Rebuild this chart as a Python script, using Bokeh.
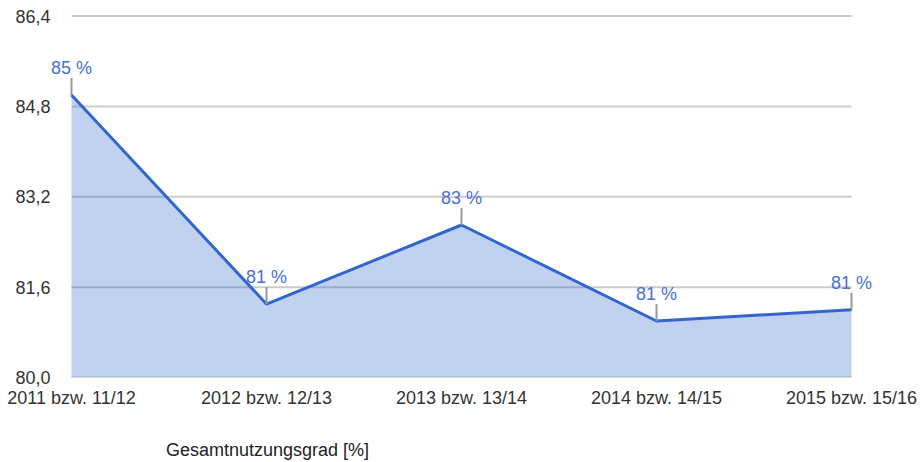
from bokeh.plotting import figure
from bokeh.models import Range1d, FixedTicker, Legend, LegendItem
from bokeh.layouts import column
from bokeh.core.properties import value
from bokeh.embed import file_html
from bokeh.resources import INLINE

categories = ["2011 bzw. 11/12", "2012 bzw. 12/13", "2013 bzw. 13/14", "2014 bzw. 14/15", "2015 bzw. 15/16"]
values = [85.0, 81.3, 82.7, 81.0, 81.2]
point_labels = ["85 %", "81 %", "83 %", "81 %", "81 %"]
y_ticks = [80.0, 81.6, 83.2, 84.8, 86.4]
y_tick_labels = ["80,0", "81,6", "83,2", "84,8", "86,4"]
series_name = "Gesamtnutzungsgrad [%]"

FONT = "Liberation Sans"
BLUE = "#3366cc"
Y_MIN, Y_MAX = 80.0, 86.4

# layout in pixels
WIDTH, MAIN_H, LEGEND_H = 918, 410, 52
FRAME_LEFT, FRAME_RIGHT = 48, 882          # frame edges
DATA_LEFT, DATA_RIGHT = 71, 851            # where first / last category sit
FRAME_TOP, DATA_TOP, DATA_BOTTOM = 10, 15.5, 377
px_per_x = (DATA_RIGHT - DATA_LEFT) / (len(categories) - 1)
px_per_y = (DATA_BOTTOM - DATA_TOP) / (Y_MAX - Y_MIN)
x_start = -(DATA_LEFT - FRAME_LEFT) / px_per_x
x_end = (len(categories) - 1) + (FRAME_RIGHT - DATA_RIGHT) / px_per_x
y_end = Y_MAX + (DATA_TOP - FRAME_TOP) / px_per_y

xs = list(range(len(categories)))

p = figure(width=WIDTH, height=MAIN_H,
           output_backend="svg", toolbar_location=None,
           x_range=Range1d(x_start, x_end), y_range=Range1d(Y_MIN, y_end),
           min_border_left=FRAME_LEFT, min_border_right=WIDTH - FRAME_RIGHT,
           min_border_top=FRAME_TOP, min_border_bottom=MAIN_H - DATA_BOTTOM)
p.outline_line_color = None
p.background_fill_color = "white"
p.border_fill_color = "white"
p.xgrid.visible = False
p.ygrid.visible = False

# gridlines restricted to the data span
p.segment(x0=[xs[0]] * len(y_ticks), x1=[xs[-1]] * len(y_ticks), y0=y_ticks, y1=y_ticks,
          line_color="#cccccc", line_width=2, level="underlay")

# axes
p.yaxis.ticker = FixedTicker(ticks=y_ticks)
p.yaxis.major_label_overrides = {t: l for t, l in zip(y_ticks, y_tick_labels)}
p.xaxis.ticker = FixedTicker(ticks=xs)
p.xaxis.major_label_overrides = {i: c for i, c in enumerate(categories)}
for ax in (p.xaxis, p.yaxis):
    ax.axis_line_color = None
    ax.major_tick_line_color = None
    ax.minor_tick_line_color = None
    ax.major_tick_out = 0
    ax.major_tick_in = 0
    ax.major_label_text_font = FONT
    ax.major_label_text_font_size = "18px"
    ax.major_label_text_color = "#333333"
p.yaxis.major_label_standoff = -2
p.xaxis.major_label_standoff = 10

# area + line
area = p.varea(x=xs, y1=[Y_MIN] * len(xs), y2=values, fill_color=BLUE, fill_alpha=0.3)
line = p.line(x=xs, y=values, line_color=BLUE, line_width=3)

# annotation stems and labels
stem_top = [v + 17 / px_per_y for v in values]
p.segment(x0=xs, y0=values, x1=xs, y1=stem_top, line_color="#999999", line_width=2)
p.text(x=xs, y=values, text=point_labels, text_align="center", text_baseline="middle",
       y_offset=-27, text_font=value(FONT), text_font_size="18px", text_color="#4a6fd6")

# legend strip: a small figure below holding only the legend
lg = figure(width=WIDTH, height=LEGEND_H, output_backend="svg", toolbar_location=None,
            min_border=0, x_axis_location=None, y_axis_location=None,
            x_range=Range1d(0, 1), y_range=Range1d(0, 1))
lg.outline_line_color = None
lg.grid.visible = False
lg.border_fill_color = "white"
lg_area = lg.varea(x=[], y1=[], y2=[], fill_color=BLUE, fill_alpha=0.3)
lg_line = lg.line(x=[], y=[], line_color=BLUE, line_width=3)
legend = Legend(items=[LegendItem(label=series_name, renderers=[lg_area, lg_line])],
                location=(DATA_LEFT, 1), orientation="horizontal",
                padding=0, margin=0, border_line_color=None, background_fill_alpha=0,
                glyph_width=38, glyph_height=8, label_standoff=9,
                label_text_font=FONT, label_text_font_size="18px", label_text_color="#222222")
lg.add_layout(legend, "center")

open("out.html", "w").write(file_html(column(p, lg, spacing=0), INLINE))
